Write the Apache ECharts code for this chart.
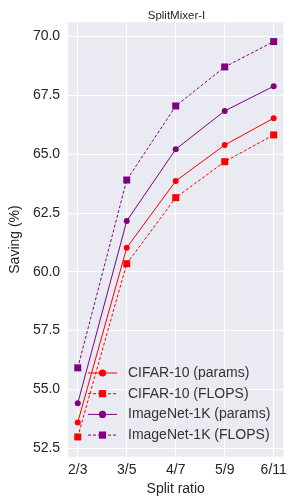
<!DOCTYPE html>
<html>
<head>
<meta charset="utf-8">
<script src="https://cdn.jsdelivr.net/npm/echarts@6/dist/echarts.min.js"></script>
<style>
html,body{margin:0;padding:0;background:#fff;}
#chart{width:293px;height:503px;}
</style>
</head>
<body>
<div id="chart"></div>
<script>
var categories = ['2/3', '3/5', '4/7', '5/9', '6/11'];
var cifarParams = [53.59, 61.02, 63.86, 65.39, 66.53];
var cifarFlops = [52.97, 60.34, 63.15, 64.68, 65.82];
var imagenetParams = [54.40, 62.16, 65.21, 66.84, 67.89];
var imagenetFlops = [55.91, 63.90, 67.05, 68.71, 69.79];
var yTicks = [52.5, 55.0, 57.5, 60.0, 62.5, 65.0, 67.5, 70.0];
var seriesNames = ['CIFAR-10 (params)', 'CIFAR-10 (FLOPS)', 'ImageNet-1K (params)', 'ImageNet-1K (FLOPS)'];

function pts(arr) { return arr.map(function (v, i) { return [i, v]; }); }
var xIdx = categories.map(function (c, i) { return i; });

var FONT = 'Liberation Sans';
var TXT = '#262626';

function mk(name, data, color, symbol, dashed, size) {
  return {
    name: name, type: 'line', data: pts(data),
    symbol: symbol, symbolSize: size, showSymbol: true,
    itemStyle: { color: color },
    lineStyle: { color: color, width: 1, type: dashed ? [3, 2] : 'solid' },
    emphasis: { disabled: true }, animation: false
  };
}

var chart = echarts.init(document.getElementById('chart'), null, { renderer: 'canvas' });
chart.setOption({
  backgroundColor: '#fff',
  animation: false,
  title: {
    text: 'SplitMixer-I', left: 171.5, top: 5, textAlign: 'center',
    textStyle: { fontFamily: FONT, fontSize: 11.5, fontWeight: 'normal', color: TXT }
  },
  grid: {
    left: 60, right: 9.7, top: 22.3, bottom: 46.3,
    show: true, backgroundColor: '#EAEAF2', borderWidth: 0
  },
  legend: {
    orient: 'vertical', left: 87.5, top: 365, padding: 0,
    itemWidth: 29, itemHeight: 9, itemGap: 4.7,
    data: seriesNames,
    lineStyle: { width: 1 },
    textStyle: { fontFamily: FONT, fontSize: 14, color: '#333', lineHeight: 16, padding: [0, 0, 0, 6] }
  },
  xAxis: {
    type: 'value', min: -0.196, max: 4.196,
    name: 'Split ratio', nameLocation: 'middle', nameGap: 25,
    nameTextStyle: { fontFamily: FONT, fontSize: 14, color: TXT },
    axisLine: { show: false },
    axisTick: { show: false, customValues: xIdx },
    axisLabel: {
      customValues: xIdx, margin: 6,
      fontFamily: FONT, fontSize: 14, color: TXT,
      formatter: function (v) { return categories[Math.round(v)]; }
    },
    splitLine: { show: true, lineStyle: { color: '#fff', width: 1 } }
  },
  yAxis: {
    type: 'value', min: 52.13, max: 70.61,
    name: 'Saving (%)', nameLocation: 'middle', nameGap: 41,
    nameTextStyle: { fontFamily: FONT, fontSize: 14, color: TXT },
    axisLine: { show: false },
    axisTick: { show: false, customValues: yTicks },
    axisLabel: {
      customValues: yTicks, margin: 8,
      fontFamily: FONT, fontSize: 14, color: TXT,
      formatter: function (v) { return v.toFixed(1); }
    },
    splitLine: { show: true, lineStyle: { color: '#fff', width: 1 } }
  },
  series: [
    mk(seriesNames[0], cifarParams, '#FF0000', 'circle', false, 6),
    mk(seriesNames[1], cifarFlops, '#FF0000', 'rect', true, 7),
    mk(seriesNames[2], imagenetParams, '#800080', 'circle', false, 6),
    mk(seriesNames[3], imagenetFlops, '#800080', 'rect', true, 7)
  ]
});
</script>
</body>
</html>
